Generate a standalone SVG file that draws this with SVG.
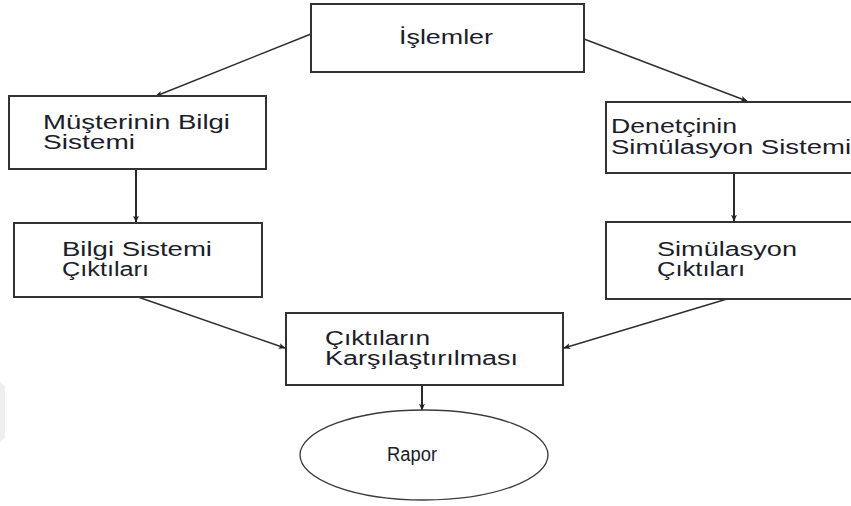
<svg xmlns="http://www.w3.org/2000/svg" width="851" height="506" viewBox="0 0 851 506">
  <style>
    .box { fill: #ffffff; stroke: #333333; stroke-width: 2; }
    .oval { fill: #ffffff; stroke: #3a3a3a; stroke-width: 1.3; }
    .lbl { font-family: "Liberation Sans", Arial, sans-serif; font-size: 19.5px; fill: #1c1c2a; }
    .edge { fill: none; stroke: #2e2e2e; stroke-width: 1.4; marker-end: url(#head); }
    .down { fill: none; stroke: #2a2a2a; stroke-width: 2; marker-end: url(#head); }
  </style>
  <defs>
    <marker id="head" viewBox="0 0 10 10" refX="9" refY="5" markerWidth="7" markerHeight="7" markerUnits="userSpaceOnUse" orient="auto">
      <path d="M0,0.8 L10,5 L0,9.2 L2.5,5 Z" fill="#222222"/>
    </marker>
  </defs>

  <rect width="851" height="506" fill="#ffffff"/>
  <!-- faint mark on the left margin -->
  <path d="M0,382 L5,386 L5,438 L0,442 Z" fill="#eeeeee"/>

  <g id="connectors">
    <line class="edge" x1="311" y1="34" x2="156" y2="96"/>
    <line class="edge" x1="584" y1="39" x2="747" y2="101"/>
    <line class="down" x1="136" y1="169" x2="136" y2="222"/>
    <line class="down" x1="734" y1="173" x2="734" y2="221"/>
    <line class="edge" x1="138" y1="297" x2="285" y2="348"/>
    <line class="edge" x1="727" y1="299" x2="564" y2="348"/>
    <line class="down" x1="422" y1="385" x2="422" y2="410"/>
  </g>

  <g id="islemler">
    <rect class="box" x="311" y="4" width="273" height="68"/>
    <text class="lbl" x="399" y="44" textLength="94" lengthAdjust="spacingAndGlyphs">İşlemler</text>
  </g>

  <g id="musteri-bilgi-sistemi">
    <rect class="box" x="9" y="96" width="257" height="73"/>
    <text class="lbl" x="43" y="129" textLength="187" lengthAdjust="spacingAndGlyphs">Müşterinin Bilgi</text>
    <text class="lbl" x="43" y="149" textLength="92" lengthAdjust="spacingAndGlyphs">Sistemi</text>
  </g>

  <g id="bilgi-sistemi-ciktilari">
    <rect class="box" x="14" y="223" width="248" height="74"/>
    <text class="lbl" x="62" y="256" textLength="150" lengthAdjust="spacingAndGlyphs">Bilgi Sistemi</text>
    <text class="lbl" x="62" y="276" textLength="87" lengthAdjust="spacingAndGlyphs">Çıktıları</text>
  </g>

  <g id="denetci-simulasyon-sistemi">
    <rect class="box" x="606" y="102" width="260" height="71"/>
    <text class="lbl" x="611" y="133" textLength="126" lengthAdjust="spacingAndGlyphs">Denetçinin</text>
    <text class="lbl" x="611" y="154" textLength="240" lengthAdjust="spacingAndGlyphs">Simülasyon Sistemi</text>
  </g>

  <g id="simulasyon-ciktilari">
    <rect class="box" x="606" y="222" width="260" height="77"/>
    <text class="lbl" x="657" y="256" textLength="140" lengthAdjust="spacingAndGlyphs">Simülasyon</text>
    <text class="lbl" x="657" y="276" textLength="88" lengthAdjust="spacingAndGlyphs">Çıktıları</text>
  </g>

  <g id="ciktilarin-karsilastirilmasi">
    <rect class="box" x="286" y="313" width="277" height="72"/>
    <text class="lbl" x="325" y="345" textLength="105" lengthAdjust="spacingAndGlyphs">Çıktıların</text>
    <text class="lbl" x="325" y="365" textLength="193" lengthAdjust="spacingAndGlyphs">Karşılaştırılması</text>
  </g>

  <g id="rapor">
    <ellipse class="oval" cx="424" cy="455" rx="124" ry="45"/>
    <text class="lbl" x="387" y="461" textLength="50" lengthAdjust="spacingAndGlyphs">Rapor</text>
  </g>
</svg>
